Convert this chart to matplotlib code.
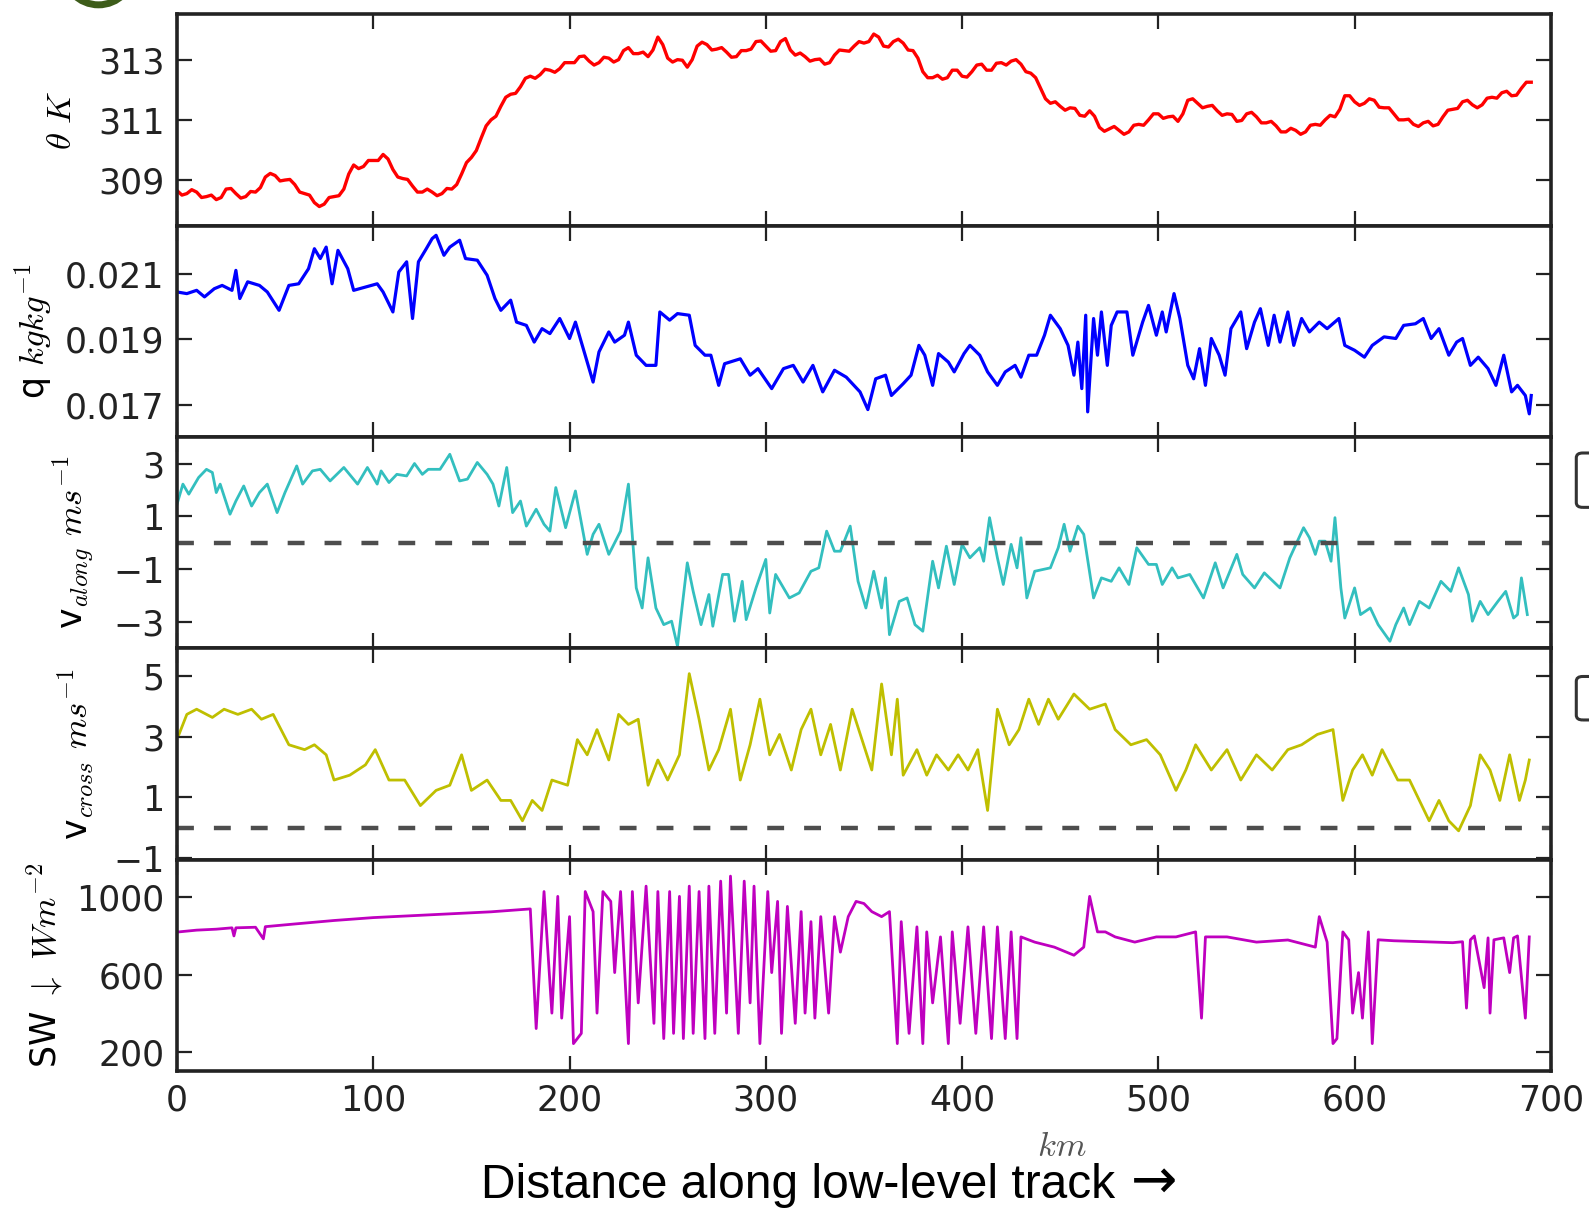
import numpy as np
import matplotlib
matplotlib.use('Agg')
import matplotlib.pyplot as plt
from matplotlib.patches import FancyBboxPatch, Ellipse

# potential temperature, every 2.5 km along the track
theta_km = np.arange(0, 690.1, 2.5)
theta = [
    308.65, 308.5, 308.55, 308.68, 308.6, 308.42, 308.45, 308.5, 308.35, 308.42, 308.7, 308.72, 308.55, 308.4, 308.45, 308.62, 308.6, 308.75, 309.1, 309.22,
    309.15, 308.97, 309.0, 309.02, 308.85, 308.6, 308.55, 308.5, 308.25, 308.12, 308.2, 308.42, 308.45, 308.48, 308.7, 309.2, 309.5, 309.38, 309.45, 309.65,
    309.65, 309.65, 309.85, 309.7, 309.35, 309.1, 309.05, 309.02, 308.8, 308.6, 308.6, 308.7, 308.6, 308.48, 308.55, 308.72, 308.7, 308.85, 309.2, 309.58,
    309.75, 309.98, 310.4, 310.8, 311.0, 311.12, 311.45, 311.75, 311.85, 311.88, 312.1, 312.38, 312.45, 312.38, 312.5, 312.68, 312.65, 312.58, 312.7, 312.9,
    312.9, 312.9, 313.1, 313.12, 312.95, 312.82, 312.9, 313.08, 313.05, 312.92, 313.0, 313.3, 313.4, 313.2, 313.2, 313.25, 313.1, 313.32, 313.75, 313.5,
    313.05, 312.92, 313.0, 312.98, 312.75, 313.0, 313.45, 313.58, 313.5, 313.32, 313.35, 313.4, 313.25, 313.08, 313.1, 313.3, 313.3, 313.35, 313.6, 313.62,
    313.45, 313.28, 313.3, 313.6, 313.7, 313.32, 313.15, 313.22, 313.1, 312.95, 313.0, 313.02, 312.85, 312.9, 313.15, 313.32, 313.3, 313.28, 313.45, 313.6,
    313.55, 313.6, 313.85, 313.75, 313.45, 313.42, 313.6, 313.68, 313.55, 313.32, 313.3, 313.05, 312.6, 312.4, 312.4, 312.48, 312.35, 312.4, 312.65, 312.65,
    312.45, 312.42, 312.6, 312.82, 312.85, 312.65, 312.65, 312.88, 312.9, 312.82, 312.95, 313.0, 312.85, 312.6, 312.55, 312.4, 312.05, 311.7, 311.55, 311.6,
    311.45, 311.32, 311.4, 311.38, 311.15, 311.12, 311.3, 311.12, 310.75, 310.62, 310.7, 310.78, 310.65, 310.52, 310.6, 310.82, 310.85, 310.82, 311.0, 311.2,
    311.2, 311.05, 311.1, 311.12, 310.95, 311.2, 311.65, 311.7, 311.55, 311.4, 311.45, 311.48, 311.3, 311.15, 311.2, 311.18, 310.95, 310.98, 311.2, 311.25,
    311.1, 310.9, 310.9, 310.95, 310.8, 310.6, 310.6, 310.72, 310.65, 310.52, 310.6, 310.82, 310.85, 310.82, 311.0, 311.15, 311.1, 311.35, 311.8, 311.8,
    311.6, 311.48, 311.55, 311.7, 311.65, 311.42, 311.4, 311.4, 311.2, 311.0, 311.0, 311.02, 310.85, 310.78, 310.9, 310.95, 310.8, 310.85, 311.1, 311.32,
    311.35, 311.38, 311.6, 311.65, 311.5, 311.4, 311.5, 311.72, 311.75, 311.72, 311.9, 311.95, 311.8, 311.82, 312.05, 312.25, 312.25,
]

# specific humidity (g/kg, converted below)
q_km = [
    0, 5, 10, 14, 19, 23, 28, 30, 32, 36, 42, 46, 52, 57, 62, 67, 70, 73, 76, 79,
    82, 87, 90, 96, 102, 105, 110, 113, 117, 120, 123, 127, 130, 132, 136, 139, 144, 147, 153, 158,
    162, 165, 170, 173, 178, 182, 186, 190, 195, 200, 203, 207, 212, 215, 220, 223, 228, 230, 234, 239,
    244, 246, 251, 255, 261, 264, 269, 272, 276, 279, 287, 292, 296, 303, 309, 314, 319, 324, 329, 335,
    341, 348, 352, 356, 361, 364, 370, 374, 378, 381, 385, 388, 393, 396, 401, 404, 409, 413, 418, 422,
    427, 430, 434, 438, 442, 445, 450, 454, 457, 459, 461, 463, 464, 467, 469, 471, 474, 476, 479, 484,
    487, 492, 495, 499, 502, 504, 508, 511, 515, 518, 521, 524, 527, 531, 534, 537, 542, 545, 549, 552,
    556, 559, 562, 566, 569, 573, 577, 582, 586, 592, 595, 600, 605, 609, 615, 621, 625, 631, 635, 639,
    643, 648, 652, 655, 659, 663, 668, 672, 676, 680, 683, 687, 689, 690,
]
q_gkg = [
    20.44, 20.39, 20.49, 20.29, 20.54, 20.64, 20.49, 21.1, 20.24, 20.75, 20.64, 20.44, 19.88, 20.64, 20.69, 21.15, 21.76, 21.46, 21.81, 20.69,
    21.71, 21.15, 20.49, 20.59, 20.69, 20.44, 19.83, 21.05, 21.36, 19.63, 21.36, 21.76, 22.07, 22.17, 21.56, 21.81, 22.02, 21.46, 21.41, 20.95,
    20.24, 19.88, 20.19, 19.52, 19.42, 18.91, 19.32, 19.17, 19.63, 19.02, 19.52, 18.71, 17.69, 18.61, 19.22, 18.91, 19.12, 19.52, 18.51, 18.2,
    18.2, 19.83, 19.58, 19.78, 19.73, 18.81, 18.51, 18.51, 17.59, 18.25, 18.4, 17.9, 18.1, 17.49, 18.1, 18.2, 17.69, 18.2, 17.39, 18.05,
    17.84, 17.39, 16.85, 17.79, 17.9, 17.28, 17.64, 17.9, 18.81, 18.51, 17.59, 18.56, 18.3, 18.0, 18.56, 18.81, 18.51, 18.0, 17.59, 18.0,
    18.2, 17.84, 18.51, 18.51, 19.12, 19.73, 19.32, 18.81, 17.9, 18.91, 17.49, 19.73, 16.78, 19.63, 18.51, 19.83, 18.2, 19.42, 19.83, 19.83,
    18.51, 19.52, 20.03, 19.12, 19.83, 19.22, 20.39, 19.63, 18.2, 17.79, 18.71, 17.59, 19.02, 18.51, 17.9, 19.32, 19.83, 18.71, 19.52, 19.93,
    18.81, 19.73, 18.91, 19.83, 18.81, 19.63, 19.22, 19.52, 19.32, 19.63, 18.81, 18.66, 18.45, 18.81, 19.07, 19.02, 19.42, 19.47, 19.63, 19.02,
    19.32, 18.51, 18.91, 19.02, 18.2, 18.45, 18.1, 17.59, 18.51, 17.39, 17.59, 17.28, 16.72, 17.28,
]

# along-track wind
va_km = [
    0, 3, 6, 11, 15, 18, 20, 22, 27, 30, 34, 38, 42, 46, 51, 55, 61, 64, 69, 73,
    78, 85, 92, 97, 102, 104, 108, 112, 117, 121, 125, 128, 134, 139, 144, 148, 153, 158, 161, 164,
    168, 171, 175, 178, 183, 187, 190, 193, 198, 203, 209, 212, 215, 220, 226, 230, 234, 237, 240, 244,
    248, 252, 255, 260, 263, 267, 271, 273, 278, 281, 284, 288, 290, 295, 300, 302, 305, 312, 317, 323,
    327, 331, 335, 338, 343, 347, 351, 355, 359, 361, 363, 368, 372, 376, 380, 385, 388, 392, 396, 400,
    404, 409, 411, 414, 418, 421, 425, 428, 430, 433, 437, 445, 449, 452, 455, 459, 462, 467, 471, 476,
    480, 485, 489, 495, 499, 502, 507, 510, 516, 523, 529, 533, 540, 543, 549, 554, 562, 567, 574, 577,
    580, 582, 585, 588, 590, 593, 595, 600, 603, 608, 612, 618, 621, 625, 628, 633, 638, 644, 649, 653,
    658, 660, 664, 668, 673, 677, 681, 683, 685, 688,
]
v_along = [
    1.46, 2.22, 1.84, 2.47, 2.78, 2.66, 1.9, 2.22, 1.08, 1.58, 2.15, 1.39, 1.9, 2.22, 1.14, 1.9, 2.91, 2.22, 2.72, 2.78,
    2.34, 2.85, 2.22, 2.85, 2.22, 2.72, 2.28, 2.59, 2.53, 3.0, 2.59, 2.78, 2.78, 3.35, 2.34, 2.41, 3.04, 2.59, 2.22, 1.39,
    2.85, 1.14, 1.58, 0.63, 1.27, 0.7, 0.44, 2.09, 0.57, 1.96, -0.44, 0.32, 0.7, -0.44, 0.44, 2.22, -1.71, -2.47, -0.57, -2.47,
    -3.1, -2.97, -3.92, -0.76, -1.84, -3.1, -1.96, -3.16, -1.2, -1.2, -2.97, -1.46, -2.91, -1.71, -0.63, -2.66, -1.2, -2.09, -1.9, -1.08,
    -0.95, 0.44, -0.32, -0.32, 0.63, -1.46, -2.47, -1.08, -2.47, -1.33, -3.48, -2.22, -2.09, -3.1, -3.35, -0.7, -1.71, -0.13, -1.58, -0.06,
    -0.57, -0.19, -0.7, 0.95, -0.57, -1.58, -0.06, -0.95, 0.19, -2.09, -1.08, -0.95, -0.19, 0.7, -0.32, 0.63, 0.32, -2.09, -1.33, -1.46,
    -0.95, -1.58, -0.19, -0.82, -0.82, -1.58, -0.95, -1.33, -1.2, -2.09, -0.76, -1.71, -0.44, -1.2, -1.71, -1.14, -1.71, -0.57, 0.57, 0.19,
    -0.44, 0.06, 0.06, -0.7, 0.95, -1.71, -2.85, -1.71, -2.72, -2.47, -3.1, -3.73, -3.1, -2.47, -3.1, -2.22, -2.47, -1.46, -1.84, -0.95,
    -1.96, -2.97, -2.22, -2.72, -2.22, -1.84, -2.85, -2.72, -1.33, -2.72,
]

# cross-track wind
vc_km = [
    1, 5, 10, 18, 24, 31, 38, 43, 49, 57, 65, 70, 76, 80, 88, 96, 101, 108, 116, 124,
    132, 139, 145, 150, 158, 165, 170, 176, 181, 186, 191, 199, 204, 209, 214, 220, 225, 230, 235, 240,
    245, 250, 256, 261, 266, 271, 276, 282, 287, 292, 297, 302, 307, 313, 318, 323, 328, 333, 338, 344,
    349, 354, 359, 364, 367, 370, 377, 382, 387, 393, 398, 403, 408, 413, 418, 424, 429, 434, 439, 444,
    449, 457, 465, 473, 478, 486, 494, 501, 509, 514, 519, 527, 535, 542, 550, 558, 566, 573, 581, 589,
    594, 599, 604, 609, 614, 622, 628, 633, 638, 643, 648, 653, 659, 664, 669, 674, 679, 684, 687, 689,
]
v_cross = [
    3.07, 3.73, 3.9, 3.63, 3.9, 3.73, 3.9, 3.57, 3.73, 2.73, 2.57, 2.73, 2.4, 1.57, 1.73, 2.07, 2.57, 1.57, 1.57, 0.73,
    1.23, 1.4, 2.4, 1.23, 1.57, 0.9, 0.9, 0.23, 0.9, 0.57, 1.57, 1.4, 2.9, 2.4, 3.23, 2.23, 3.73, 3.4, 3.57, 1.4,
    2.23, 1.57, 2.4, 5.07, 3.57, 1.9, 2.57, 3.9, 1.57, 2.73, 4.23, 2.4, 3.07, 1.9, 3.23, 3.9, 2.4, 3.4, 1.9, 3.9,
    2.9, 1.9, 4.73, 2.4, 4.23, 1.73, 2.57, 1.73, 2.4, 1.9, 2.4, 1.9, 2.57, 0.57, 3.9, 2.73, 3.23, 4.23, 3.4, 4.23,
    3.57, 4.4, 3.9, 4.07, 3.23, 2.73, 2.9, 2.4, 1.23, 1.9, 2.73, 1.9, 2.57, 1.57, 2.4, 1.9, 2.57, 2.73, 3.07, 3.23,
    0.9, 1.9, 2.4, 1.73, 2.57, 1.57, 1.57, 0.9, 0.23, 0.9, 0.23, -0.1, 0.73, 2.4, 1.9, 0.9, 2.4, 0.9, 1.57, 2.23,
]

# downwelling shortwave
sw_km = [
    0, 10, 20, 28, 29, 30, 40, 44, 45, 60,
    80, 100, 120, 140, 160, 180, 183, 187, 191, 194,
    196, 200, 202, 206, 208, 212, 214, 217, 221, 223,
    226, 230, 232, 235, 239, 243, 245, 248, 251, 253,
    256, 258, 261, 263, 266, 269, 271, 274, 277, 280,
    282, 286, 289, 292, 294, 297, 301, 303, 306, 308,
    311, 315, 318, 320, 323, 325, 328, 332, 335, 338,
    342, 346, 350, 354, 359, 363, 367, 369, 373, 377,
    380, 382, 385, 389, 393, 395, 399, 403, 407, 411,
    415, 418, 422, 425, 428, 430, 437, 447, 457, 462,
    465, 469, 473, 478, 488, 499, 509, 519, 522, 524,
    535, 550, 566, 580, 582, 586, 589, 591, 594, 597,
    599, 602, 604, 607, 609, 612, 620, 635, 650, 655,
    657, 659, 661, 666, 668, 669, 671, 676, 679, 681,
    683, 687, 689,
]
sw_down = [
    820, 830, 835, 842, 800, 842, 845, 785, 848, 862,
    880, 895, 905, 915, 925, 940, 320, 1030, 400, 1005,
    374, 900, 242, 295, 1030, 926, 400, 1030, 979, 610,
    1030, 242, 1030, 453, 1058, 347, 1030, 268, 1030, 295,
    1005, 268, 1058, 295, 1030, 268, 1058, 295, 1084, 400,
    1110, 295, 1084, 453, 1058, 242, 1030, 610, 979, 295,
    953, 347, 926, 400, 874, 374, 900, 400, 900, 716,
    900, 979, 968, 926, 900, 926, 242, 874, 295, 847,
    242, 821, 453, 795, 242, 821, 347, 847, 295, 847,
    268, 847, 268, 821, 268, 795, 768, 742, 700, 742,
    1005, 821, 821, 795, 768, 795, 795, 821, 374, 795,
    795, 768, 779, 742, 900, 768, 242, 268, 821, 780,
    400, 610, 374, 821, 242, 780, 775, 770, 765, 770,
    426, 780, 800, 532, 790, 400, 780, 790, 610, 790,
    800, 374, 795,
]

plt.rcParams.update({
    'font.family': 'DejaVu Sans',
    'font.size': 25,
    'mathtext.fontset': 'cm',
    'axes.linewidth': 2.6,
    'axes.edgecolor': '#222222',
    'xtick.direction': 'in',
    'ytick.direction': 'in',
    'xtick.top': True,
    'ytick.right': True,
    'xtick.major.size': 11,
    'ytick.major.size': 11,
    'xtick.major.width': 1.6,
    'ytick.major.width': 1.6,
    'xtick.major.pad': 9,
    'ytick.major.pad': 9,
    'xtick.color': '#222222',
    'ytick.color': '#222222',
})

fig, axes = plt.subplots(5, 1, sharex=True, figsize=(15.89, 12.08), dpi=100)
fig.subplots_adjust(left=0.1114, right=0.976, top=0.988, bottom=0.1134, hspace=0)
ax1, ax2, ax3, ax4, ax5 = axes

ax1.plot(theta_km, theta, color=(1, 0, 0), lw=2.4)
ax1.set_ylim(307.48, 314.5)
ax1.set_yticks([309, 311, 313])
ax1.set_ylabel(r'$\theta\ K$', labelpad=14)

ax2.plot(q_km, np.array(q_gkg) / 1000.0, color=(0, 0, 1), lw=2.3)
ax2.set_ylim(0.01601, 0.02246)
ax2.set_yticks([0.017, 0.019, 0.021])
ax2.set_ylabel(r'q $kgkg^{-1}$', labelpad=8)

ax3.plot(va_km, v_along, color=(0.2, 0.75, 0.75), lw=2.0)
ax3.axhline(0, color='0.3', lw=3.2, ls=(0, (3.8, 4.5)))
ax3.set_ylim(-4, 4)
ax3.set_yticks([-3, -1, 1, 3])
ax3.set_ylabel(r'v$_{along}$ $ms^{-1}$', labelpad=12)

ax4.plot(vc_km, v_cross, color=(0.75, 0.75, 0), lw=2.0)
ax4.axhline(0, color='0.3', lw=3.2, ls=(0, (3.8, 4.5)))
ax4.set_ylim(-1.05, 5.9)
ax4.set_yticks([-1, 1, 3, 5])
ax4.set_ylabel(r'v$_{cross}$ $ms^{-1}$', labelpad=12)

ax5.plot(sw_km, sw_down, color=(0.75, 0, 0.75), lw=2.0)
ax5.set_ylim(100, 1195)
ax5.set_yticks([200, 600, 1000])
ax5.set_ylabel(r'SW $\downarrow$ $Wm^{-2}$', labelpad=8)

for ax in axes:
    ax.set_xlim(0, 700)
    ax.set_xticks(range(0, 701, 100))

fig.text(0.668, 0.043, r'$km$', fontsize=25, ha='center', va='baseline', color='#555555')
caption = fig.text(0.3028, 0.0083, 'Distance along low-level track', fontsize=34.5,
                   family='Liberation Sans', ha='left', va='baseline')
fig.canvas.draw()
cb = caption.get_window_extent()
fig.text((cb.x1 + 16) / fig.bbox.width, 0.0083, '\u2192', fontsize=40,
         family='DejaVu Sans', ha='left', va='baseline')

# legend frames that run off the right edge
for y0, h in [(0.580, 0.045), (0.404, 0.036)]:
    fig.add_artist(FancyBboxPatch((0.992, y0), 0.05, h, boxstyle='round,pad=0,rounding_size=0.004',
                                  transform=fig.transFigure, fill=False, ec='#333333', lw=2.2))

# panel marker cut off by the top edge
fig.add_artist(Ellipse((0.062, 1.026), 0.045, 0.06, transform=fig.transFigure,
                       fill=False, ec='#3d5c1a', lw=5))

fig.savefig('out.png', dpi=100)
